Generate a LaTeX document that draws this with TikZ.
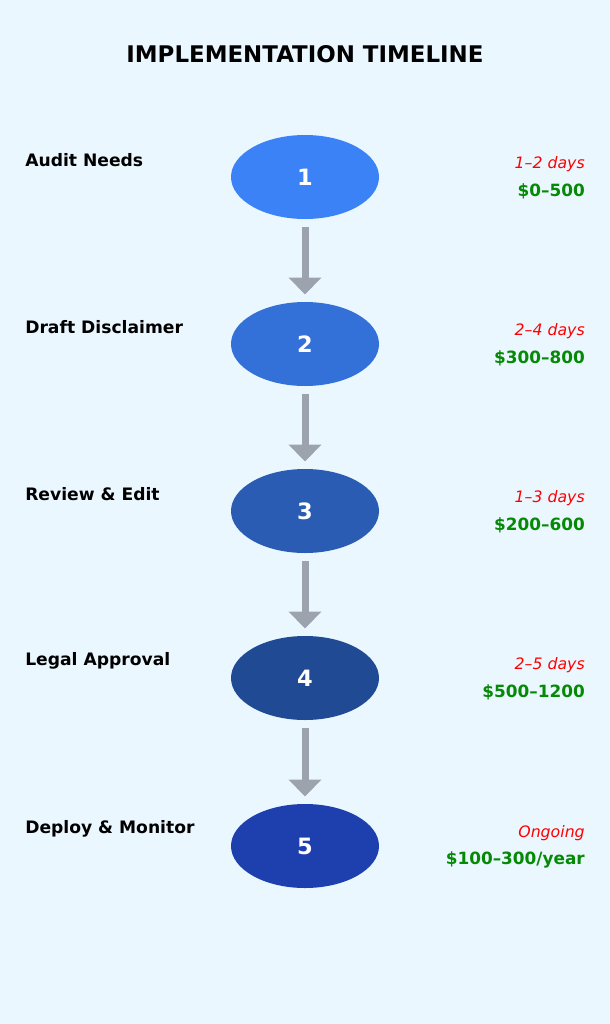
\documentclass[tikz,border=0pt]{standalone}
\usepackage{fontspec}
\setmainfont{DejaVu Sans}
\usetikzlibrary{shapes.geometric, arrows.meta, positioning}
\definecolor{bgblue}{HTML}{EBF7FF}
\definecolor{arrowgray}{HTML}{9CA3AF}
\definecolor{costgreen}{HTML}{058A05}
\definecolor{stepA}{HTML}{3B82F6}
\definecolor{stepB}{HTML}{3370D8}
\definecolor{stepC}{HTML}{2B5CB3}
\definecolor{stepD}{HTML}{214A94}
\definecolor{stepE}{HTML}{1E40AF}
\tikzset{
  stepnode/.style={ellipse, minimum width=3.7cm, minimum height=2.1cm, inner sep=0pt,
    text=white, font=\fontsize{16}{18}\selectfont\bfseries},
  flow/.style={draw=arrowgray, line width=0.175cm, -{Triangle[width=0.8cm, length=0.425cm]},
    shorten <=0.2cm, shorten >=0.18cm},
  tasklabel/.style={anchor=west, inner sep=0pt, font=\fontsize{12.2}{14}\selectfont\bfseries},
  timelabel/.style={anchor=east, inner sep=0pt, text=red, font=\fontsize{11.2}{14}\selectfont\itshape},
  costlabel/.style={anchor=east, inner sep=0pt, text=costgreen, font=\fontsize{12}{14}\selectfont\bfseries}
}
\begin{document}
\begin{tikzpicture}
    % background and bounds
    \fill[bgblue] (0,0) rectangle (15.25,-25.6);
    \useasboundingbox (0,0) rectangle (15.25,-25.6);
    \node[font=\fontsize{16.3}{19}\selectfont\bfseries] (title) at (7.625,-1.35) {IMPLEMENTATION TIMELINE};

    % steps
    \foreach \n/\y/\c/\task/\time/\cost in {
        1/-4.425/stepA/Audit Needs/1–2 days/\$0–500,
        2/-8.6/stepB/Draft Disclaimer/2–4 days/\$300–800,
        3/-12.775/stepC/Review \& Edit/1–3 days/\$200–600,
        4/-16.95/stepD/Legal Approval/2–5 days/\$500–1200,
        5/-21.15/stepE/Deploy \& Monitor/Ongoing/{\$100–300/year}
    } {
        \node[stepnode, fill=\c] (s\n) at (7.625,\y) {\n};
        \node[tasklabel] (task\n) at (0.625,\y+0.42) {\task};
        \node[timelabel] (time\n) at (14.625,\y+0.32) {\time};
        \node[costlabel] (cost\n) at (14.625,\y-0.36) {\cost};
    }

    % arrows between steps
    \foreach \a/\b in {1/2, 2/3, 3/4, 4/5}
        \draw[flow] (s\a) -- (s\b);
\end{tikzpicture}
\end{document}
